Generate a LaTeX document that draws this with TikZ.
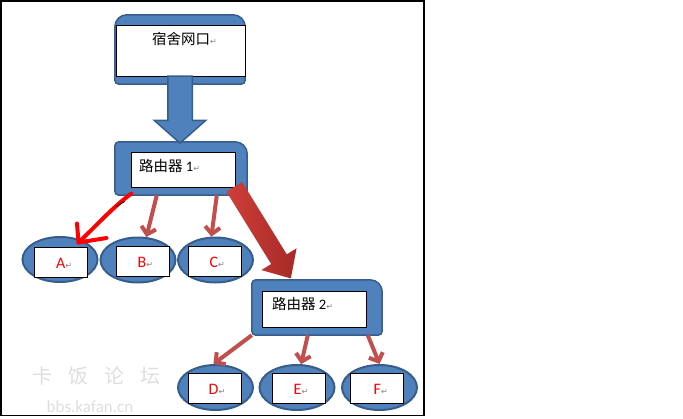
\documentclass[tikz,border=0pt]{standalone}
\usepackage{fontspec}
\newfontfamily\cjkfnt{Noto Sans CJK SC}
\newfontfamily\latfnt{Carlito}
\newfontfamily\symfnt{DejaVu Sans}
\usetikzlibrary{calc,shapes.geometric,shapes.arrows,arrows.meta}

\definecolor{boxblue}{RGB}{79,129,189}
\definecolor{edgeblue}{RGB}{56,93,138}
\definecolor{arrred}{RGB}{192,80,77}
\definecolor{blkred}{RGB}{208,62,56}
\definecolor{blkdark}{RGB}{165,42,40}
\definecolor{wmgray}{RGB}{222,222,222}

\newcommand{\ret}{{\color{gray}\symfnt\fontsize{8}{8}\selectfont ↵}}

\tikzset{
  blueshape/.style={fill=boxblue, draw=edgeblue, line width=1.5pt},
  boxarea/.style={inner sep=0pt, draw=none},
  inbox/.style={fill=white, draw=black, line width=0.8pt, inner sep=0pt},
  oval/.style={blueshape, line width=2pt, ellipse, inner sep=0pt, minimum width=75pt, minimum height=45pt},
  slot/.style={inbox, minimum width=53pt, minimum height=30pt},
  lettr/.style={text=red, font=\latfnt\fontsize{16}{16}\selectfont, inner sep=0pt, anchor=west},
  cjktxt/.style={font=\cjkfnt\fontsize{14.5}{14.5}\selectfont, inner sep=0pt, anchor=west},
  link/.style={draw=arrred, line width=4pt, -{Straight Barb[length=7pt,width=15pt]}},
  wm/.style={text=wmgray, inner sep=0pt},
}

\begin{document}
\begin{tikzpicture}[x=1pt, y=-1pt]
  \useasboundingbox (0,0) rectangle (683,418);
  \draw[line width=1.5pt] (0.75,0.75) rectangle (424,415.5);

  % watermark
  \node[wm, font=\cjkfnt\fontsize{20}{20}\selectfont] (wmcn) at (96.5,376) {卡\hspace{16pt}饭\hspace{16pt}论\hspace{16pt}坛};
  \node[wm, font=\latfnt\fontsize{17}{17}\selectfont] (wmurl) at (90,407) {bbs.kafan.cn};


  % top box
  \node[boxarea, minimum width=130pt, minimum height=69pt] (topbox) at (180,49.5) {};
  \draw[blueshape, rounded corners=4pt] (topbox.south west) [rounded corners=12pt] -- (topbox.north west) -- (topbox.north east) [rounded corners=4pt] -- (topbox.south east) -- cycle;
  \node[inbox, minimum width=129pt, minimum height=51pt] (top) at (180.5,50.5) {};
  \node[cjktxt] (toptxt) at (152,39) {宿舍网口\ret};

  % router 1
  \node[boxarea, minimum width=132pt, minimum height=53pt] (r1box) at (181,168.5) {};
  \draw[blueshape, rounded corners=4pt] (r1box.south west) -- (r1box.north west) [rounded corners=12pt] -- (r1box.north east) [rounded corners=4pt] -- (r1box.south east) -- cycle;
  \node[inbox, minimum width=104pt, minimum height=35pt] (r1) at (183,169.5) {};
  \node[cjktxt] (r1txt) at (139,166) {路由器 {\latfnt 1}\ret};

  % router 2
  \node[boxarea, minimum width=130pt, minimum height=55pt] (r2box) at (317,307.5) {};
  \draw[blueshape, rounded corners=4pt] (r2box.south west) -- (r2box.north west) [rounded corners=12pt] -- (r2box.north east) [rounded corners=4pt] -- (r2box.south east) -- cycle;
  \node[inbox, minimum width=104pt, minimum height=36pt] (r2) at (314,309) {};
  \node[cjktxt] (r2txt) at (272,304) {路由器 {\latfnt 2}\ret};

  % A B C
  \node[oval] (aell) at (60,259.5) {};
  \node[slot] (aslot) at (60.5,262) {};
  \node[lettr] (alab) at (56,263) {A\ret};
  \node[oval] (bell) at (138,260) {};
  \node[slot] (bslot) at (142.5,261) {};
  \node[lettr] (blab) at (137.5,262) {B\ret};
  \node[oval] (cell) at (215.5,260) {};
  \node[slot] (cslot) at (215,261) {};
  \node[lettr] (clab) at (209.5,262) {C\ret};

  % D E F
  \node[oval] (dell) at (215.5,387.5) {};
  \node[slot] (dslot) at (215,388) {};
  \node[lettr] (dlab) at (208.5,389) {D\ret};
  \node[oval] (eell) at (297,387.5) {};
  \node[slot] (eslot) at (298.5,388) {};
  \node[lettr] (elab) at (293.5,389) {E\ret};
  \node[oval] (fell) at (379.5,387.5) {};
  \node[slot] (fslot) at (377,388) {};
  \node[lettr] (flab) at (373.5,389) {F\ret};

  % links
  \draw[link] ($(r1box.south west)+(42,0)$) -- (bell.70);
  \draw[link] ($(r1box.south west)+(102,0)$) -- (cell.100);
  \draw[link] (r2box.south west) -- (dell.95);
  \draw[link] ($(r2box.south west)+(56,0)$) -- (eell.80);
  \draw[link] ($(r2box.south west)+(116,0)$) -- (fell.north);

  % hand drawn arrow to A
  \coordinate (hstart) at ($(r1box.south west)+(16.5,-1.5)$);
  \coordinate (htip) at (78.5,242.5);
  \draw[red, line width=4pt, line cap=round, line join=round] (hstart) .. controls (114,206) and (96,226) .. (htip);
  \draw[red, line width=4pt, line cap=round, line join=round] ($(htip)+(-1.5,-19)$) .. controls ($(htip)+(0,-10)$) .. (htip) -- ($(htip)+(28,-4.5)$);
  \draw[line width=0.6pt] (116,206.5) -- (125,201.5);

  % block arrows
  \node[single arrow, blueshape, rotate=-90, anchor=tail, inner xsep=0pt, inner ysep=11.5pt,
        minimum height=67pt, single arrow head extend=13.5pt,
        single arrow tip angle=97] (down) at ($(top.south)+(-0.5,-1)$) {};
  \node[single arrow, draw=none, left color=blkred, right color=blkdark, rotate=-58.3, anchor=tail,
        inner xsep=0pt, inner ysep=9pt,
        minimum height=107.6pt, single arrow head extend=11.5pt,
        single arrow tip angle=85] (diag) at (234.2,186.7) {};
\end{tikzpicture}
\end{document}
